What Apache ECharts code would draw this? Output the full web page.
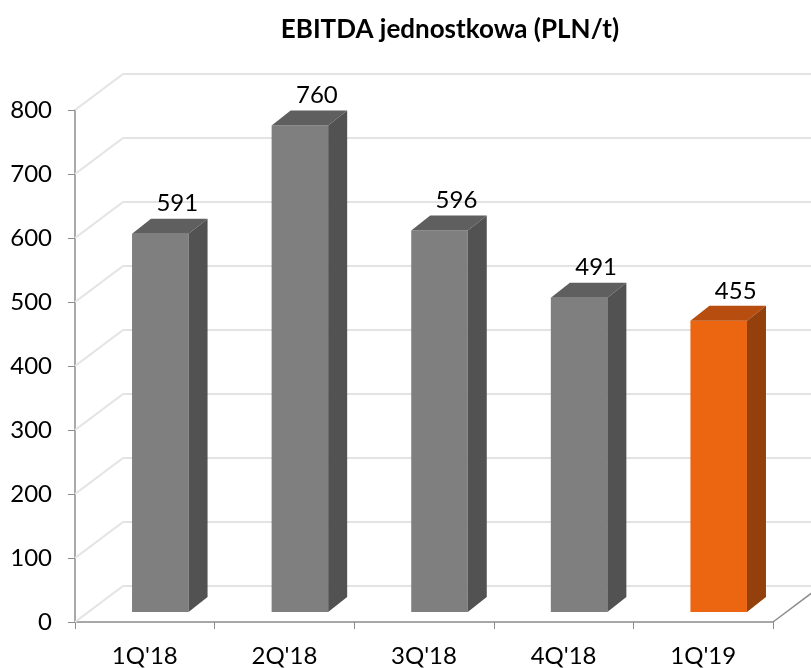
<!DOCTYPE html>
<html>
<head>
<meta charset="utf-8">
<script src="https://cdn.jsdelivr.net/npm/echarts@6/dist/echarts.min.js"></script>
<style>
  html, body { margin: 0; padding: 0; background: #fff; }
  #chart { width: 811px; height: 668px; }
</style>
</head>
<body>
<div id="chart"></div>
<script>
// dane
const categories = ["1Q'18", "2Q'18", "3Q'18", "4Q'18", "1Q'19"];
const values = [591, 760, 596, 491, 455];
const yTicks = [0, 100, 200, 300, 400, 500, 600, 700, 800];

// kolory: [przod, gora, bok]
const grayFaces = ["#7f7f7f", "#5f5f5f", "#525252"];
const orangeFaces = ["#ec6611", "#b74d0e", "#94400c"];

const font = "Lato, 'Open Sans', sans-serif";

// glebia "3D" w pikselach
const wallDx = 48, wallDy = -36;
const barFrontDx = 15.5, barFrontDy = -10;
const barDepthDx = 19, barDepthDy = -15;

const chart = echarts.init(document.getElementById("chart"));

function renderWall(params, api) {
  const v = api.value(0);
  const cs = params.coordSys;
  const y = api.coord([0, v])[1];
  const x0 = cs.x;
  const x1 = cs.x + cs.width;
  const lineStyle = { stroke: "#e3e3e3", lineWidth: 2 };
  const children = [
    { type: "line", shape: { x1: x0, y1: y, x2: x0 + wallDx, y2: y + wallDy }, style: lineStyle },
    { type: "line", shape: { x1: x0 + wallDx, y1: y + wallDy, x2: x1 + wallDx, y2: y + wallDy }, style: lineStyle },
  ];
  if (v === 0) {
    children.push({
      type: "line",
      shape: { x1: x1, y1: y, x2: x1 + wallDx, y2: y + wallDy },
      style: { stroke: "#8c8c8c", lineWidth: 1.5 },
    });
  }
  return { type: "group", children };
}

function renderBar(params, api) {
  const idx = api.value(0);
  const base = api.coord([idx, 0]);
  const top = api.coord([idx, api.value(1)]);
  const w = api.size([1, 0])[0] * 0.405;
  const faces = idx === values.length - 1 ? orangeFaces : grayFaces;
  const fx = base[0] + barFrontDx - w / 2;
  const ft = top[1] + barFrontDy;
  const fb = base[1] + barFrontDy;
  return {
    type: "group",
    children: [
      { type: "rect", shape: { x: fx, y: ft, width: w, height: fb - ft }, style: { fill: faces[0] } },
      {
        type: "polygon",
        shape: { points: [[fx, ft], [fx + barDepthDx, ft + barDepthDy], [fx + w + barDepthDx, ft + barDepthDy], [fx + w, ft]] },
        style: { fill: faces[1] },
      },
      {
        type: "polygon",
        shape: { points: [[fx + w, ft], [fx + w + barDepthDx, ft + barDepthDy], [fx + w + barDepthDx, fb + barDepthDy], [fx + w, fb]] },
        style: { fill: faces[2] },
      },
      {
        type: "text",
        x: fx + w / 2 + 17,
        y: ft - 30,
        style: {
          text: String(api.value(1)),
          fill: "#000",
          font: "24px " + font,
          align: "center",
          verticalAlign: "middle",
        },
      },
    ],
  };
}

const option = {
  animation: false,
  title: {
    text: "EBITDA jednostkowa (PLN/t)",
    left: 445,
    top: 12,
    textAlign: "center",
    textStyle: { fontFamily: font, fontWeight: "bold", fontSize: 26, color: "#000" },
  },
  grid: { left: 75, right: 38, top: 110, bottom: 45, containLabel: false },
  xAxis: {
    type: "category",
    data: categories,
    axisLine: { lineStyle: { color: "#8c8c8c", width: 1.5 } },
    axisTick: { show: true, length: 7, lineStyle: { color: "#8c8c8c" } },
    axisLabel: { color: "#000", fontSize: 24, fontFamily: font, margin: 22 },
    splitLine: { show: false },
  },
  yAxis: {
    type: "value",
    min: 0,
    max: 800,
    interval: 100,
    axisLine: { show: true, lineStyle: { color: "#8c8c8c", width: 1.5 } },
    axisTick: { show: true, length: 7, lineStyle: { color: "#8c8c8c" } },
    axisLabel: { color: "#000", fontSize: 24, fontFamily: font, margin: 23 },
    splitLine: { show: false },
  },
  series: [
    {
      type: "custom",
      z: 1,
      silent: true,
      renderItem: renderWall,
      data: yTicks.map((v) => [v]),
      encode: { y: 0 },
    },
    {
      type: "custom",
      z: 3,
      renderItem: renderBar,
      data: values.map((v, i) => [i, v]),
      encode: { x: 0, y: 1 },
    },
  ],
};

chart.setOption(option);
</script>
</body>
</html>
